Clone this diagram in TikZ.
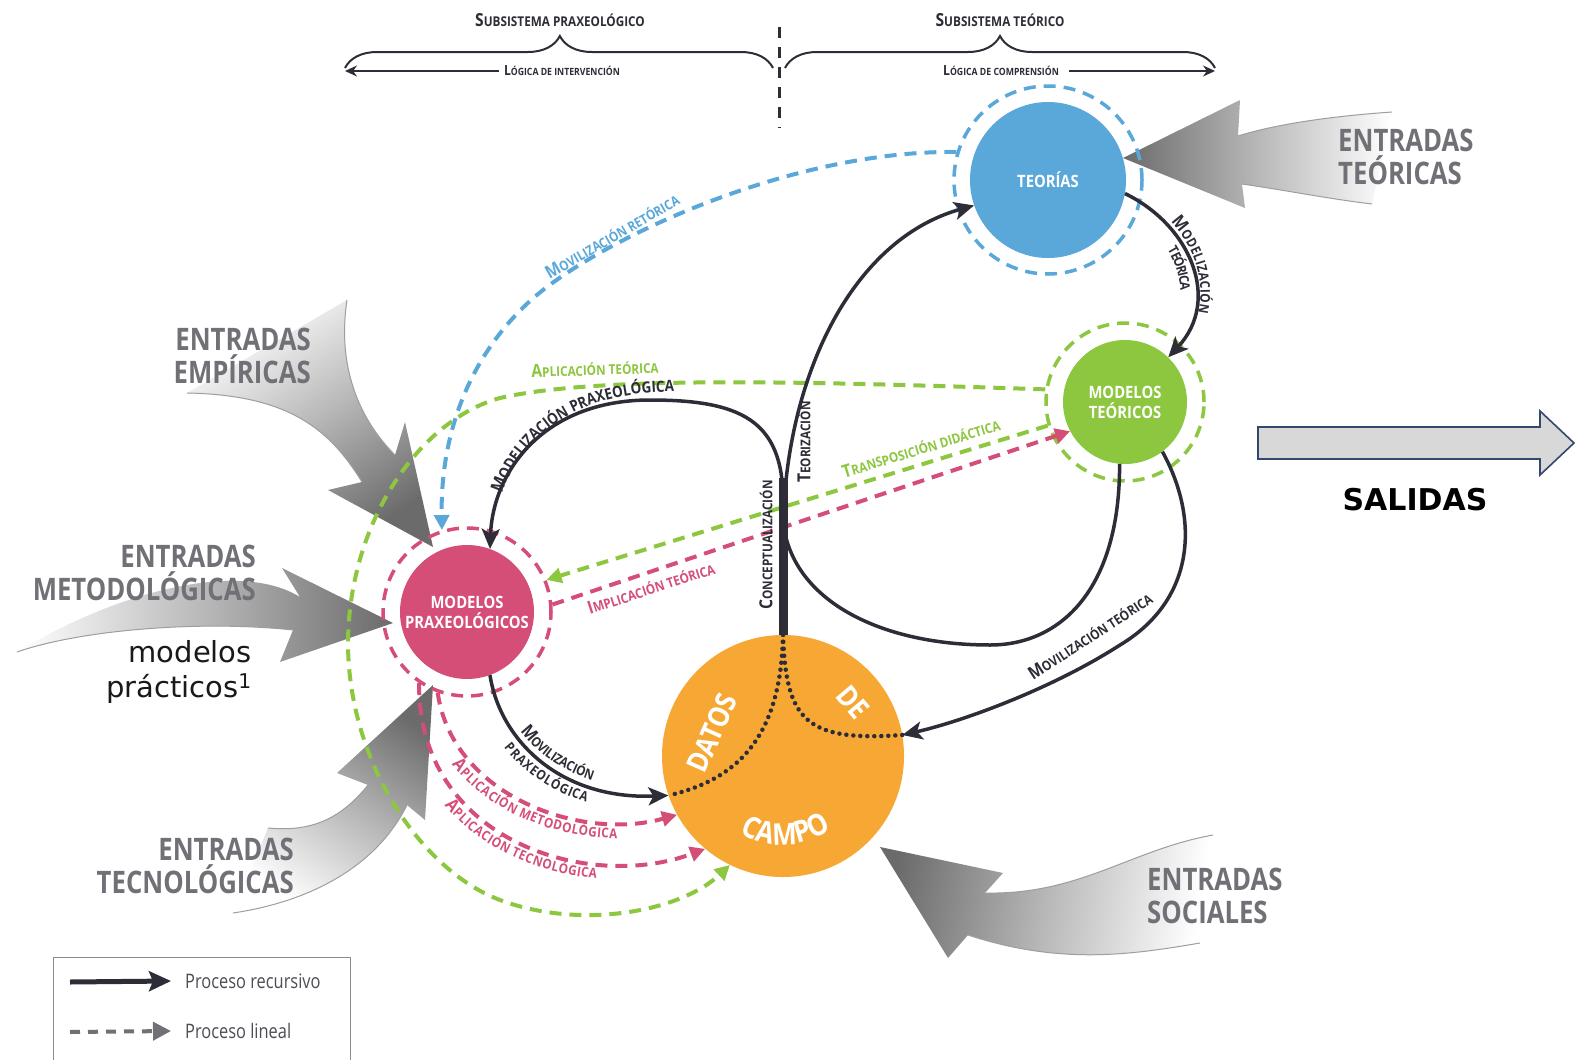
\documentclass[tikz,border=0pt]{standalone}
\usepackage{fontspec}
\setmainfont{Open Sans}
\newfontfamily\lblfont[FakeStretch=0.87]{Open Sans}
\newfontfamily\entfont[FakeStretch=0.83]{Open Sans}
\newfontfamily\legfont[FakeStretch=0.82]{Open Sans}
\newfontfamily\verdfont{DejaVu Sans}
\usetikzlibrary{arrows.meta,positioning,decorations.pathreplacing,decorations.text}

\definecolor{ink}{RGB}{45,45,55}
\definecolor{cteo}{RGB}{90,168,218}
\definecolor{cmteo}{RGB}{141,198,63}
\definecolor{cprax}{RGB}{213,78,120}
\definecolor{cdat}{RGB}{247,167,52}
\definecolor{entgray}{RGB}{112,112,118}
\definecolor{salfill}{RGB}{216,216,216}
\definecolor{salline}{RGB}{52,72,110}

\newcommand\capbig{\lblfont\bfseries\fontsize{18}{18}\selectfont}
\newcommand\capsml{\lblfont\bfseries\fontsize{13.5}{13.5}\selectfont}
\newcommand\capwide{\lblfont\bfseries\fontsize{15.5}{15.5}\selectfont}
\newcommand\scp[2]{{\capbig#1}{\capsml#2}}
\newcommand\scpmini[2]{{\lblfont\bfseries\fontsize{14}{14}\selectfont#1}{\lblfont\bfseries\fontsize{10}{10}\selectfont#2}}

\begin{document}
\begin{tikzpicture}[x=1pt,y=-1pt,
  disc/.style={circle, inner sep=0pt, text=white, align=center,
    font=\lblfont\bfseries\fontsize{17}{20}\selectfont},
  ring/.style={circle, draw=#1, line width=3.5pt, dash pattern=on 12pt off 8pt, inner sep=0pt},
  recur/.style={draw=ink, line width=3.5pt, -{Stealth[length=20pt,width=18pt,inset=5pt]}},
  lineal/.style={draw=#1, line width=4pt, dash pattern=on 12pt off 8pt, -{Triangle[length=15pt,width=15pt]}},
  dotline/.style={draw=ink, line width=4.5pt, line cap=round, dash pattern=on 0pt off 7pt},
  lbl/.style={inner sep=0pt},
  entrada/.style={top color=black!58, bottom color=white, middle color=black!28},
  tail/.style={draw=black!38, line width=1pt},
  entxt/.style={inner sep=0pt, text=entgray, font=\entfont\bfseries\fontsize{31}{33}\selectfont},
]
\useasboundingbox (0,0) rectangle (1577,1060);
\fill[white] (0,0) rectangle (1577,1060);

% circles
\node[disc, fill=cteo, minimum size=156pt] (teo) at (1048,180) {TEORÍAS};
\node[disc, fill=cmteo, minimum size=124pt] (mteo) at (1125,402) {MODELOS\\TEÓRICOS};
\node[disc, fill=cprax, minimum size=134pt] (mprax) at (467,612) {MODELOS\\PRAXEOLÓGICOS};
\node[disc, fill=cdat, minimum size=242pt] (datos) at (783,756) {};

% entradas (gray swooshes)
\shade[entrada, shading angle=90] (1392,112) .. controls (1320,117) and (1270,126) .. (1238,136)
  -- (1240,100) -- (1123,158) -- (1245,208) -- (1242,184)
  .. controls (1290,191) and (1330,199) .. (1372,204) -- cycle;
\draw[tail] (1392,112) .. controls (1320,117) and (1270,126) .. (1238,136);
\draw[tail] (1242,184) .. controls (1290,191) and (1330,199) .. (1372,204);

\shade[entrada, shading angle=-146] (347,300) .. controls (335,380) and (370,430) .. (395,455)
  -- (405,422) -- (433,547) -- (328,490) -- (362,482)
  .. controls (330,430) and (290,395) .. (187,393) -- cycle;
\draw[tail] (347,300) .. controls (335,380) and (370,430) .. (395,455);
\draw[tail] (362,482) .. controls (330,430) and (290,395) .. (187,393);

\shade[entrada, shading angle=-90] (17,652) .. controls (80,630) and (200,620) .. (293,630)
  -- (280,662) -- (393,623) -- (282,568) -- (300,597)
  .. controls (240,560) and (120,590) .. (17,652) -- cycle;
\draw[tail] (17,652) .. controls (80,630) and (200,620) .. (293,630);

\shade[entrada, shading angle=-34] (268,828) .. controls (310,832) and (340,820) .. (368,785)
  -- (337,773) -- (433,685) -- (425,820) -- (407,805)
  .. controls (380,860) and (320,900) .. (233,913) -- cycle;
\draw[tail] (268,828) .. controls (310,832) and (340,820) .. (368,785);
\draw[tail] (407,805) .. controls (380,860) and (320,900) .. (233,913);

\shade[entrada, shading angle=81] (1213,835) .. controls (1130,850) and (1080,895) .. (985,893)
  -- (1003,873) -- (880,847) -- (948,958) -- (968,935)
  .. controls (1060,965) and (1130,955) .. (1200,943) -- cycle;
\draw[tail] (1213,835) .. controls (1130,850) and (1080,895) .. (985,893);
\draw[tail] (968,935) .. controls (1060,965) and (1130,955) .. (1200,943);

\node[entxt, anchor=west, align=left] (eteo) at (1338,157) {ENTRADAS\\TEÓRICAS};
\node[entxt, anchor=east, align=right] (eemp) at (311,356) {ENTRADAS\\EMPÍRICAS};
\node[entxt, anchor=east, align=right] (emet) at (256,573) {ENTRADAS\\METODOLÓGICAS};
\node[entxt, anchor=east, align=right] (etec) at (294,866) {ENTRADAS\\TECNOLÓGICAS};
\node[entxt, anchor=west, align=left] (esoc) at (1147,896) {ENTRADAS\\SOCIALES};
\node[anchor=east, align=right, inner sep=0pt, text=black!90,
  font=\verdfont\fontsize{29}{35}\selectfont] (modprac) at (252,672) {modelos\\prácticos\textsuperscript{1}};

% header
\node[lbl, text=ink] (subprax) at (560,20) {\scp{S}{UBSISTEMA PRAXEOLÓGICO}};
\node[lbl, text=ink] (subteo) at (1000,20) {\scp{S}{UBSISTEMA TEÓRICO}};
\draw[ink, line width=2pt, decorate, decoration={brace, amplitude=32pt, aspect=0.502}] (345,68) -- (773,68);
\draw[ink, line width=2pt, decorate, decoration={brace, amplitude=32pt, aspect=0.5}] (785,68) -- (1215,68);
\node[lbl, text=ink] (intv) at (562,71) {\scpmini{L}{ÓGICA DE INTERVENCIÓN}};
\node[lbl, text=ink] (comp) at (1001,71) {\scpmini{L}{ÓGICA DE COMPRENSIÓN}};
\draw[ink, line width=1.5pt, -{Stealth[length=12pt,width=11pt]}] ([xshift=-5pt]intv.west) -- (345,71);
\draw[ink, line width=1.5pt, -{Stealth[length=12pt,width=11pt]}] ([xshift=10pt]comp.east) -- (1215,71);
\draw[ink, line width=3pt, dash pattern=on 11pt off 9pt] (779,27) -- (779,128);

% rings
\node[ring=cteo, minimum size=188pt] (teoring) at (teo) {};
\node[ring=cmteo, minimum size=158pt] (mteoring) at (mteo) {};
\node[ring=cprax, minimum size=168pt] (mpraxring) at (mprax) {};

% procesos lineales
\draw[lineal=cteo] (teoring.163) .. controls (800,150) and (620,230) .. (543,290)
  .. controls (480,340) and (440,420) .. (mpraxring.107);
\draw[lineal=cmteo] (mteoring.171) .. controls (820,382) and (600,375) .. (500,398)
  .. controls (420,420) and (350,520) .. (348,640)
  .. controls (347,760) and (420,870) .. (500,900)
  .. controls (580,930) and (680,912) .. (datos.244);
\draw[lineal=cmteo] (mteoring.197) -- (mpraxring.22);
\draw[lineal=cprax] (mpraxring.5) -- (mteo.208);
\draw[lineal=cprax] (mpraxring.-110) .. controls (452,795) and (580,842) .. (datos.209);
\draw[lineal=cprax] (mpraxring.-124) .. controls (418,842) and (590,892) .. (datos.230);

% procesos recursivos
\draw[ink, line width=3.5pt] (mteo.265) .. controls (1120,590) and (1060,645) .. (990,645)
  .. controls (880,645) and (790,600) .. (783,520);
\draw[recur] (783,530) .. controls (785,380) and (850,240) .. (teo.199);
\draw[recur] (783,500) .. controls (783,420) and (740,400) .. (650,400)
  .. controls (545,400) and (493,470) .. (mprax.70);
\draw[recur] (teo.-10) .. controls (1190,225) and (1222,300) .. (mteo.46);
\draw[recur] (mteo.-53) .. controls (1200,520) and (1195,600) .. (1120,645)
  .. controls (1050,690) and (960,722) .. (datos.10);
\draw[recur] (mprax.-70) .. controls (500,740) and (560,800) .. (datos.199);
\draw[ink, line width=9pt] (datos.north) -- (783,478);
\draw[dotline] (datos.north) .. controls (781,740) and (735,780) .. (datos.199);
\draw[dotline] (datos.north) .. controls (786,720) and (805,742) .. (datos.10);

% datos de campo
\node[lbl, text=white, rotate=66, font=\lblfont\bfseries\fontsize{29}{29}\selectfont] (tdatos) at (712,733) {DATOS};
\node[lbl, text=white, rotate=-50, font=\lblfont\bfseries\fontsize{29}{29}\selectfont] (tde) at (853,702) {DE};
\path[decorate, decoration={text along path, text color=white, text align=center,
  text={|\lblfont\bfseries\fontsize{30}{30}\selectfont|CAMPO}}]
  (733,828) .. controls (764,852) and (806,850) .. (838,824);

% etiquetas
\node[lbl, text=cteo, rotate=30] (lretor) at (612,236) {\scp{M}{OVILIZACIÓN RETÓRICA}};
\node[lbl, text=cmteo, rotate=2] (lapteo) at (595,369) {\scp{A}{PLICACIÓN TEÓRICA}};
\node[lbl, text=ink, rotate=90] (lteoriz) at (804,442) {\scp{T}{EORIZACIÓN}};
\node[lbl, text=ink, rotate=90] (lconcep) at (766,545) {\scp{C}{ONCEPTUALIZACIÓN}};
\node[lbl, text=cmteo, rotate=17] (ltransp) at (921,448) {\scp{T}{RANSPOSICIÓN DIDÁCTICA}};
\node[lbl, text=cprax, rotate=18] (limplic) at (651,588) {\scp{I}{MPLICACIÓN TEÓRICA}};
\node[lbl, text=ink, rotate=33] (lmovteo) at (1090,636) {\scp{M}{OVILIZACIÓN TEÓRICA}};

\path[decorate, decoration={text along path, text color=ink, text align=left,
  text={|\capbig|M|\capwide|ODELIZACIÓN PRAXEOLÓGICA}}]
  (502,494) .. controls (520,440) and (570,396) .. (660,392) .. controls (720,390) and (760,400) .. (774,420);
\path[decorate, decoration={text along path, text color=ink, text align=center, raise=5pt,
  text={|\capbig|M|\capsml|ODELIZACIÓN}}]
  (teo.-10) .. controls (1190,225) and (1222,300) .. (mteo.46);
\path[decorate, decoration={text along path, text color=ink, text align=center, raise=-15pt,
  text={|\capsml|TEÓRICA}}]
  (teo.-10) .. controls (1190,225) and (1222,300) .. (mteo.46);
\path[decorate, decoration={text along path, text color=ink, text align={left, left indent=66pt}, raise=6pt,
  text={|\capbig|M|\capsml|OVILIZACIÓN}}]
  (mprax.-70) .. controls (500,740) and (560,800) .. (datos.199);
\path[decorate, decoration={text along path, text color=ink, text align={left, left indent=68pt}, raise=-17pt,
  text={|\capsml|PRAXEOLÓGICA}}]
  (mprax.-70) .. controls (500,740) and (560,800) .. (datos.199);
\path[decorate, decoration={text along path, text color=cprax, text align={left, left indent=68pt}, raise=-16pt,
  text={|\capbig|A|\capsml|PLICACIÓN METODOLÓGICA}}]
  (mpraxring.-110) .. controls (452,795) and (580,842) .. (datos.209);
\path[decorate, decoration={text along path, text color=cprax, text align={left, left indent=120pt}, raise=-16pt,
  text={|\capbig|A|\capsml|PLICACIÓN TECNOLÓGICA}}]
  (mpraxring.-124) .. controls (418,842) and (590,892) .. (datos.230);

% salidas
\draw[salline, line width=1.6pt, fill=salfill] (1258,427) -- (1540,427) -- (1540,411) -- (1574,443)
  -- (1540,475) -- (1540,459) -- (1258,459) -- cycle;
\node[font=\verdfont\bfseries\fontsize{30}{30}\selectfont, text=black] (salidas) at (1415,500) {SALIDAS};

% leyenda
\node[draw=black!45, line width=1.3pt, minimum width=297pt, minimum height=115pt,
  anchor=north west, inner sep=0pt] (leyenda) at (53,957) {};
\node[right, inner sep=0pt, text=ink!85, font=\legfont\fontsize{20}{20}\selectfont] (lrec) at (185,981) {Proceso recursivo};
\node[right, inner sep=0pt, text=ink!85, font=\legfont\fontsize{20}{20}\selectfont] (llin) at (185,1031) {Proceso lineal};
\coordinate (lrs) at (70,982);
\coordinate (lls) at (70,1032);
\draw[ink, line width=5pt, -{Stealth[length=22pt,width=20pt,inset=4pt]}] (lrs) -- ([xshift=-14pt]lrec.west);
\draw[entgray, line width=4pt, dash pattern=on 10pt off 8pt, -{Triangle[length=18pt,width=18pt]}] (lls) -- ([xshift=-14pt]llin.west);
\end{tikzpicture}
\end{document}
